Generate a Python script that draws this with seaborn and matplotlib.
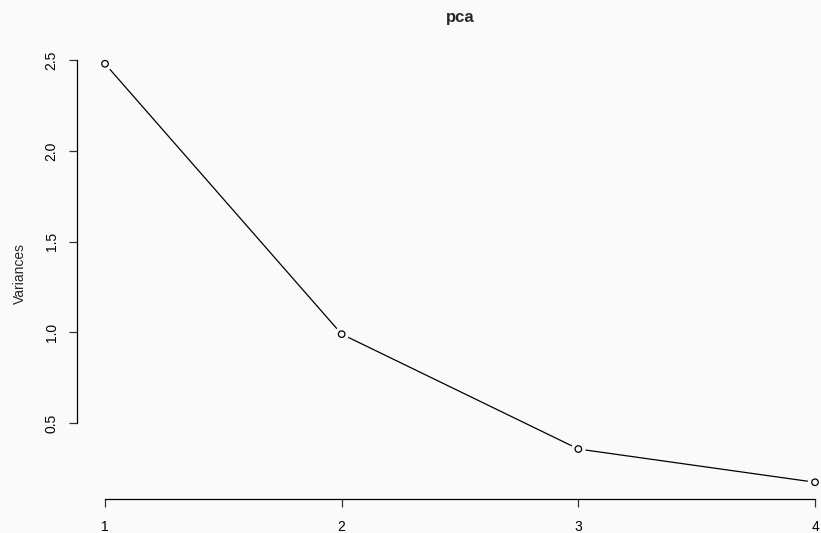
import matplotlib
matplotlib.use("Agg")
import matplotlib.pyplot as plt
import seaborn as sns
import pandas as pd

# Scree data: variance of each principal component
components = [1, 2, 3, 4]
variances = [2.4802, 0.9898, 0.3566, 0.1734]
x_ticks = [1, 2, 3, 4]
y_ticks = [0.5, 1.0, 1.5, 2.0, 2.5]

bg = "#fafafa"
sns.set_theme(style="ticks")
plt.rcParams["font.family"] = ["Liberation Sans", "DejaVu Sans"]

df = pd.DataFrame({"component": components, "variance": variances})

fig = plt.figure(figsize=(8.21, 5.33), dpi=100, facecolor=bg)
ax = fig.add_axes([0.0933, 0.0638, 0.934, 0.848])
ax.set_facecolor(bg)

sns.lineplot(data=df, x="component", y="variance", ax=ax, color="black",
             linewidth=0.9, zorder=2)
# background discs leave a small gap between the line and each point
sns.scatterplot(data=df, x="component", y="variance", ax=ax, s=110,
                color=bg, edgecolor="none", zorder=3)
sns.scatterplot(data=df, x="component", y="variance", ax=ax, s=22,
                facecolor="none", edgecolor="black", linewidth=0.9, zorder=4)

lo, hi = min(variances), max(variances)
pad = 0.04 * (hi - lo)
ax.set_ylim(lo - pad, hi + pad)
ax.set_xlim(0.88, 4.12)

ax.set_xticks(x_ticks)
ax.set_xticklabels([str(t) for t in x_ticks])
ax.set_yticks(y_ticks)
ax.set_yticklabels([f"{t:.1f}" for t in y_ticks])

for side in ["top", "right"]:
    ax.spines[side].set_visible(False)
ax.spines["left"].set_bounds(y_ticks[0], y_ticks[-1])
ax.spines["bottom"].set_bounds(x_ticks[0], x_ticks[-1])
for s in ["left", "bottom"]:
    ax.spines[s].set_linewidth(0.9)
    ax.spines[s].set_color("black")

ax.tick_params(axis="both", direction="out", length=6, width=0.9,
               colors="#333333", labelcolor="black", labelsize=10)
ax.tick_params(axis="x", pad=9)
ax.tick_params(axis="y", pad=7, labelrotation=90)
for lbl in ax.get_yticklabels():
    lbl.set_verticalalignment("center")

ax.set_xlabel("")
ax.set_ylabel("Variances", fontsize=10, labelpad=13)
ax.set_title("pca", fontsize=12, fontweight="bold", pad=18)
ax.grid(False)

fig.savefig("out.png", dpi=100, facecolor=bg)
